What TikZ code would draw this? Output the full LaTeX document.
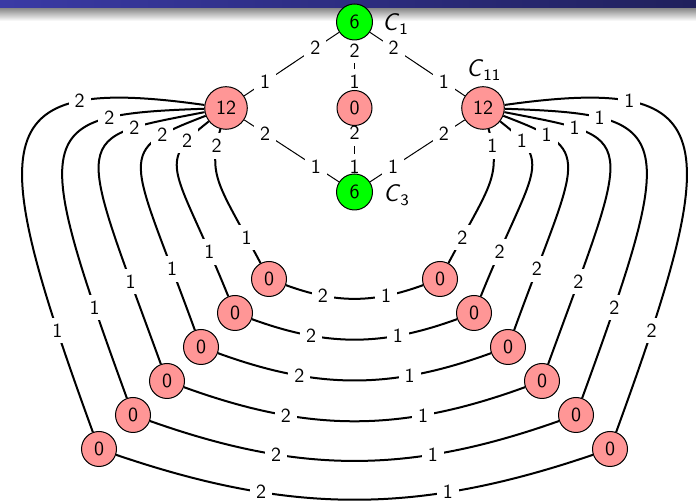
\documentclass[tikz,border=0pt]{standalone}
\usetikzlibrary{shadings}
\pgfdeclarelayer{edges}
\pgfsetlayers{edges,main}
\definecolor{nodepink}{RGB}{255,150,150}
\definecolor{srcgreen}{RGB}{0,255,0}
\definecolor{barleft}{RGB}{58,58,165}
\definecolor{barright}{RGB}{32,32,92}
\newcommand\cname[1]{\textsl{C}\textsubscript{\upshape #1}}
\begin{document}
\begin{tikzpicture}[x=0.5pt,y=-0.5pt,
  every node/.style={font=\sffamily},
  vtx/.style={circle,draw=black,line width=0.5pt,minimum size=17.5pt,inner sep=0pt},
  zero/.style={vtx,fill=nodepink},
  big/.style={vtx,fill=nodepink,minimum size=21.3pt},
  src/.style={vtx,fill=srcgreen,minimum size=18pt},
  lbl/.style={fill=white,inner sep=3pt},
  cl/.style={font=\sffamily\large,inner sep=0pt,anchor=base west},
  link/.style={draw=black,line width=0.5pt},
  arc/.style={draw=black,line width=1pt}]
\useasboundingbox (0,0) rectangle (696,501);
% frame title bar with its shadow
\shade[left color=barleft,right color=barright] (0,0) rectangle (696,8.5);
\shade[top color=black!45,bottom color=white] (0,8.5) rectangle (696,21);

% central vertices
\node[src]  (C1)  at (354.5,22)  {6};
\node[zero] (M0)  at (354.5,108) {0};
\node[src]  (C3)  at (354.5,192) {6};
\node[big]  (L12) at (226,108)   {12};
\node[big]  (R12) at (483,108)   {12};
\node[cl] (C1lab)  at (382,31)  {\cname{1}};
\node[cl] (C11lab) at (466,77)  {\cname{11}};
\node[cl] (C3lab)  at (383,202) {\cname{3}};

% chains of zero vertices
\foreach \k/\xl/\xr/\y in {1/269/440/279,2/235/474/313,3/201/508/347,
                           4/167/542/381,5/133/576/415,6/99/610/449}{
  \node[zero] (L\k) at (\xl,\y) {0};
  \node[zero] (R\k) at (\xr,\y) {0};
}

\begin{pgfonlayer}{edges}
% diamond
\draw[link] (C1) -- node[lbl,pos=0.25]{2} node[lbl,pos=0.78]{1} (L12);
\draw[link] (C1) -- node[lbl,pos=0.25]{2} node[lbl,pos=0.78]{1} (R12);
\draw[link] (C1) -- node[lbl,pos=0.2]{2} node[lbl,pos=0.84]{1} (M0);
\draw[link] (M0) -- node[lbl,pos=0.15]{2} node[lbl,pos=0.85]{1} (C3);
\draw[link] (L12) -- node[lbl,pos=0.22]{2} node[lbl,pos=0.755]{1} (C3);
\draw[link] (R12) -- node[lbl,pos=0.22]{2} node[lbl,pos=0.755]{1} (C3);

% nested loops 12 -> 0 -> 0 -> 12
\foreach \k/\oa/\od/\ia/\id/\pa/\pb/\pc/\bd in {
  1/255/50/118/90/0.13/0.88/0.26/20,
  2/218/70/112/140/0.17/0.87/0.28/20,
  3/201/100/110/190/0.20/0.87/0.29/20,
  4/191/140/110/250/0.22/0.865/0.29/20,
  5/182/170/110/290/0.24/0.875/0.30/19.5,
  6/172/220/110/320/0.25/0.875/0.295/18.8}{
  \pgfmathsetmacro\oda{0.5*\od}
  \pgfmathsetmacro\ida{0.5*\id}
  \pgfmathsetmacro\roa{180-\ia}
  \pgfmathsetmacro\ria{180-\oa}
  \pgfmathsetmacro\rpa{1-\pb}
  \pgfmathsetmacro\rpb{1-\pa}
  \pgfmathsetmacro\rpc{1-\pc}
  \draw[arc] (L12) to[out=\oa,in=\ia,out distance=\oda pt,in distance=\ida pt]
    node[lbl,pos=\pa]{2} node[lbl,pos=\pb]{1} (L\k);
  \draw[arc] (L\k) to[bend right=\bd]
    node[lbl,pos=\pc]{2} node[lbl,pos=\rpc]{1} (R\k);
  \draw[arc] (R\k) to[out=\roa,in=\ria,out distance=\ida pt,in distance=\oda pt]
    node[lbl,pos=\rpa]{2} node[lbl,pos=\rpb]{1} (R12);
}
\end{pgfonlayer}
\end{tikzpicture}
\end{document}
